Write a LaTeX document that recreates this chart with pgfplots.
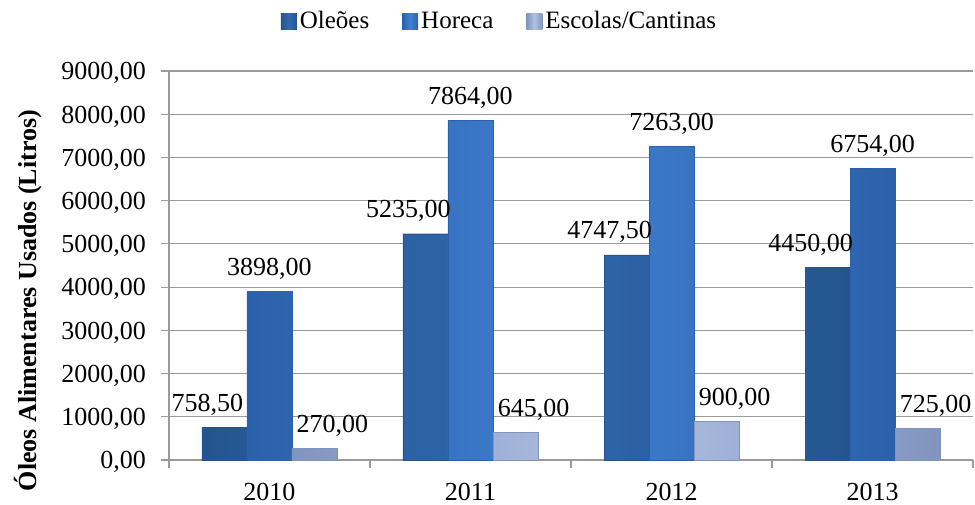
\documentclass[border=0pt]{standalone}
\usepackage{pgfplots}
\pgfplotsset{compat=1.18}
\usepackage{fontspec}
\setmainfont{Liberation Serif}
\definecolor{oleE}{HTML}{24558F}
\definecolor{oleM}{HTML}{3068B0}
\definecolor{horE}{HTML}{2C61AA}
\definecolor{horM}{HTML}{3F7FD0}
\definecolor{escE}{HTML}{8194BE}
\definecolor{escM}{HTML}{B0C2E4}
\definecolor{gridgray}{HTML}{9A9A9A}
\begin{document}
\fontsize{26}{30}\selectfont
\begin{tikzpicture}
\path[use as bounding box] (-169pt,-44pt) rectangle (806pt,460pt);
\begin{axis}[
  at={(0pt,0pt)}, anchor=south west,
  scale only axis, width=804pt, height=389pt,
  xmin=-0.5, xmax=3.5, ymin=0, ymax=9000,
  ytick={0,1000,...,9000},
  xtick={0,1,2,3}, xticklabels={2010,2011,2012,2013},
  minor xtick={-0.5,0.5,1.5,2.5,3.5},
  major x tick style={draw=none},
  tick align=outside, major tick length=8pt, minor tick length=8pt,
  every tick/.style={gridgray, line width=1.2pt},
  ymajorgrids, grid style={gridgray, line width=1.2pt},
  axis x line*=bottom, axis y line*=left,
  axis line style={gridgray, line width=1.2pt, -},
  /pgf/number format/.cd, fixed, fixed zerofill, precision=2, use comma, 1000 sep={}, assume math mode=true,
  /pgfplots/.cd,
  yticklabel style={anchor=base east, inner sep=0pt, xshift=-15pt, yshift=-8.8pt, font=\fontsize{26}{30}\selectfont},
  xticklabel style={anchor=base, inner sep=0pt, yshift=-32pt, font=\fontsize{26}{30}\selectfont},
  ylabel={\textbf{Óleos Alimentares Usados (Litros)}},
  every axis y label/.style={at={(axis description cs:-0.1754,0.41)}, rotate=90, anchor=center, font=\fontsize{26}{30}\selectfont},
  ybar=0pt, bar width=45pt,
  nodes near coords,
  every node near coord/.append style={anchor=base, yshift=16pt, inner sep=0pt, text=black, font=\fontsize{26}{30}\selectfont},
  legend columns=3,
  legend style={at={(axis description cs:0.4117,1.126)}, anchor=center, draw=none, fill=none,
    font=\fontsize{25}{30}\selectfont, nodes={inner sep=3pt},
    /tikz/every even column/.append style={column sep=30pt}},
  legend image code/.code={\path[#1, draw=none] (0pt,-8pt) rectangle (16pt,8pt);},
]
\addplot[draw=oleE, line width=0.4pt, left color=oleE, right color=oleE, middle color=oleM,
  every node near coord/.append style={xshift=-17pt}]
  coordinates {(0,758.5) (1,5235) (2,4747.5) (3,4450)};
\addplot[draw=horE, line width=0.4pt, left color=horE, right color=horE, middle color=horM]
  coordinates {(0,3898) (1,7864) (2,7263) (3,6754)};
\addplot[draw=escE, line width=0.4pt, left color=escE, right color=escE, middle color=escM,
  every node near coord/.append style={xshift=18pt}]
  coordinates {(0,270) (1,645) (2,900) (3,725)};
\legend{Oleões, Horeca, Escolas/Cantinas}
\end{axis}
\end{tikzpicture}
\end{document}
